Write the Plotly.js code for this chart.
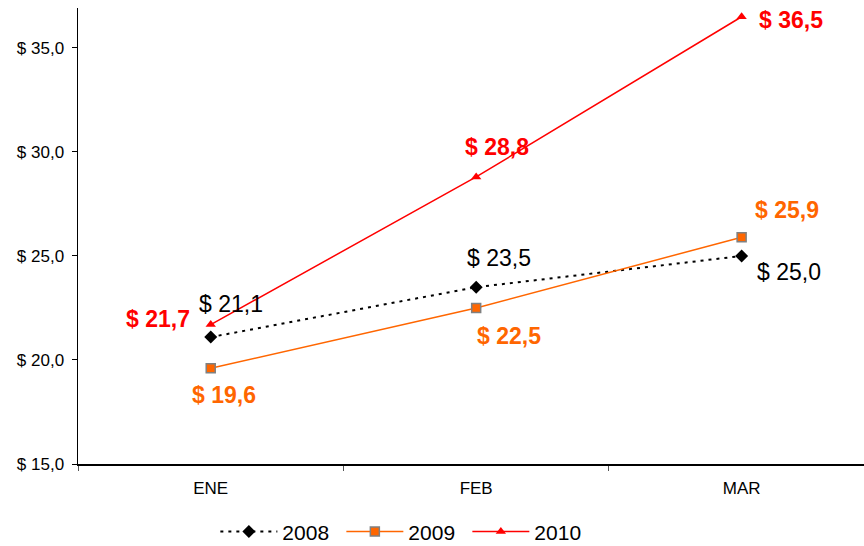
<!DOCTYPE html>
<html>
<head>
<meta charset="utf-8">
<script src="https://cdn.plot.ly/plotly-3.0.1.min.js"></script>
<style>html,body{margin:0;padding:0;background:#fff;}#chart{width:864px;height:546px;}</style>
</head>
<body>
<div id="chart"></div>
<script>
var months = ["ENE", "FEB", "MAR"];
var seriesNames = ["2008", "2009", "2010"];
var values2008 = [21.1, 23.5, 25.0];
var values2009 = [19.6, 22.5, 25.9];
var values2010 = [21.7, 28.8, 36.5];
var yTickVals = [15, 20, 25, 30, 35];

function fmt(v) { return "$ " + v.toFixed(1).replace(".", ","); }

var styles = [
  {color: "#000000", line: {color: "#000000", width: 2, dash: "3px,5px"}, marker: {symbol: "diamond", size: 10, color: "#000000"}, bold: false},
  {color: "#FF6600", line: {color: "#FF6600", width: 1.5}, marker: {symbol: "square", size: 9, color: "#FF6600", line: {color: "#808080", width: 1.5}}, bold: true},
  {color: "#FF0000", line: {color: "#FF0000", width: 1.5}, marker: {symbol: "triangle-up", size: 9, color: "#FF0000"}, bold: true}
];
var labelShifts = [
  [[20, 33], [23, 29], [47, -16]],
  [[13, -27], [33, -28], [45, 27]],
  [[-53, 6], [21, 30], [49, -3]]
];

var allValues = [values2008, values2009, values2010];
var traces = [];
var annotations = [];
allValues.forEach(function (vals, s) {
  var st = styles[s];
  traces.push({
    type: "scatter", mode: "lines+markers", name: seriesNames[s],
    x: months, y: vals, line: st.line, marker: st.marker, cliponaxis: false
  });
  vals.forEach(function (v, i) {
    var t = fmt(v);
    annotations.push({
      x: months[i], y: v, xref: "x", yref: "y", showarrow: false,
      text: st.bold ? "<b>" + t + "</b>" : t,
      xshift: labelShifts[s][i][0], yshift: labelShifts[s][i][1],
      font: {family: "Liberation Sans, Arial, sans-serif", size: 23, color: st.color}
    });
  });
});

var layout = {
  width: 864, height: 546,
  margin: {l: 78, r: 0, t: 8, b: 82},
  paper_bgcolor: "#ffffff", plot_bgcolor: "#ffffff",
  font: {family: "Liberation Sans, Arial, sans-serif", color: "#000000"},
  showlegend: true,
  legend: {orientation: "h", xref: "container", yref: "container",
           x: 0.468, xanchor: "center", y: 0.026, yanchor: "middle",
           itemwidth: 57, entrywidth: 54,
           font: {size: 21, color: "#000000"}, bgcolor: "rgba(0,0,0,0)"},
  xaxis: {
    type: "category", range: [-0.5, 2.461], showgrid: false, zeroline: false,
    showline: true, linecolor: "#000000", linewidth: 1.5,
    ticks: "outside", tickson: "boundaries", ticklen: 5, tickcolor: "#555555", tickwidth: 1,
    tickfont: {size: 17, color: "#000000"}, ticklabelstandoff: 8
  },
  yaxis: {
    range: [15, 36.92], showgrid: false, zeroline: false,
    showline: true, linecolor: "#000000", linewidth: 1.5,
    ticks: "outside", ticklen: 5, tickcolor: "#000000", tickwidth: 1,
    tickvals: yTickVals, ticktext: yTickVals.map(fmt),
    tickfont: {size: 17, color: "#000000"}, ticklabelstandoff: 4
  },
  annotations: annotations
};

Plotly.newPlot("chart", traces, layout, {displayModeBar: false, staticPlot: true});
</script>
</body>
</html>
